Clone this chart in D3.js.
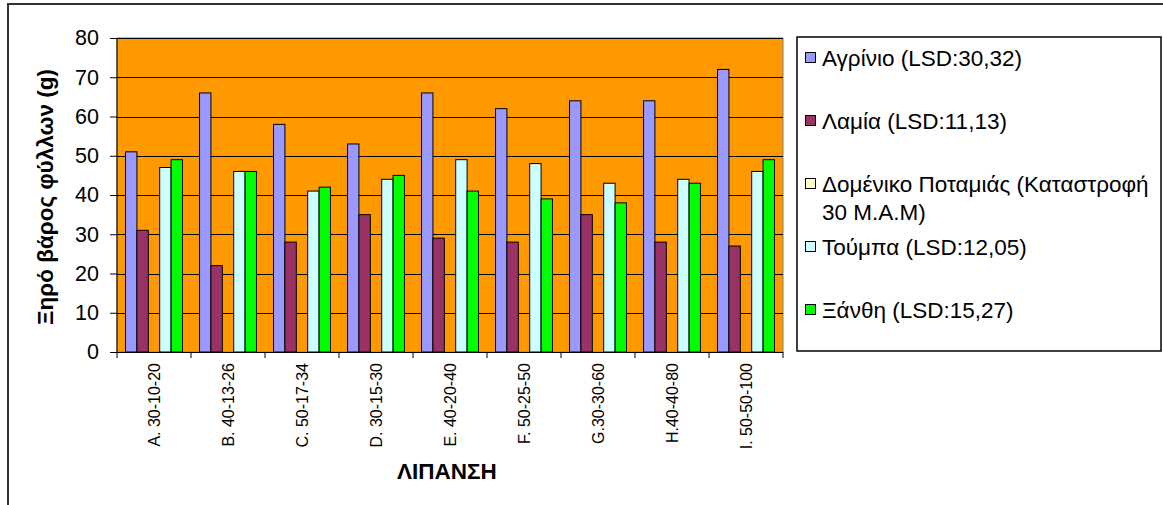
<!DOCTYPE html>
<html><head><meta charset="utf-8">
<script src="https://cdn.jsdelivr.net/npm/d3@7"></script>
<style>html,body{margin:0;padding:0;background:#fff;}svg{display:block;}</style>
</head><body>
<svg id="chart" width="1163" height="505"></svg>
<script>
const categories = ["A. 30-10-20","B. 40-13-26","C. 50-17-34","D. 30-15-30","E. 40-20-40","F. 50-25-50","G.30-30-60","H.40-40-80","I. 50-50-100"];
const seriesNames = ["Αγρίνιο (LSD:30,32)","Λαμία (LSD:11,13)","Δομένικο Ποταμιάς (Καταστροφή|30 M.A.M)","Τούμπα (LSD:12,05)","Ξάνθη (LSD:15,27)"];
const agrinio  = [51,66,58,53,66,62,64,64,72];
const lamia    = [31,22,28,35,29,28,35,28,27];
const domeniko = [null,null,null,null,null,null,null,null,null];
const toumpa   = [47,46,41,44,49,48,43,44,46];
const xanthi   = [49,46,42,45,41,39,38,43,49];
const yTicks = [0,10,20,30,40,50,60,70,80];
const colors = ["#9999FF","#993366","#FFFFCC","#CCFFFF","#00FF00"];
const yTitle = "Ξηρό βάρος φύλλων (g)";
const xTitle = "ΛΙΠΑΝΣΗ";

const seriesValues = [agrinio, lamia, domeniko, toumpa, xanthi];
const svg = d3.select("#chart");
const font = "'Liberation Sans', Arial, sans-serif";

// outer chart border
svg.append("rect").attr("x",8).attr("y",4).attr("width",1170).attr("height",520)
  .attr("fill","none").attr("stroke","#333").attr("stroke-width",2);

const plot = {left:117, top:38, right:783, bottom:352};
const x = d3.scaleBand().domain(categories).range([plot.left, plot.right]).paddingInner(0).paddingOuter(0);
const y = d3.scaleLinear().domain([0,80]).range([plot.bottom, plot.top]);
const n = seriesNames.length;
const barW = x.bandwidth()/(n+1.5);
const x1 = d3.scaleBand().domain(d3.range(n)).range([barW*0.75, barW*0.75 + barW*n]).padding(0);

// plot background
svg.append("rect").attr("x",plot.left).attr("y",plot.top)
  .attr("width",plot.right-plot.left).attr("height",plot.bottom-plot.top)
  .attr("fill","#FF9900").attr("stroke","#808080").attr("stroke-width",1);

// gridlines
svg.append("g").selectAll("line").data(yTicks.filter(d=>d>0)).join("line")
  .attr("x1",plot.left).attr("x2",plot.right)
  .attr("y1",d=>Math.round(y(d))+0.5).attr("y2",d=>Math.round(y(d))+0.5)
  .attr("stroke","#000").attr("stroke-width",1);

// bars
const groups = svg.append("g").selectAll("g").data(categories).join("g")
  .attr("transform",d=>`translate(${x(d)},0)`);
groups.selectAll("rect").data((c,i)=>seriesValues.map((s,k)=>({k, v:s[i]})).filter(d=>d.v!=null)).join("rect")
  .attr("x",d=>x1(d.k)).attr("width",x1.bandwidth())
  .attr("y",d=>y(d.v)).attr("height",d=>y(0)-y(d.v))
  .attr("fill",d=>colors[d.k]).attr("stroke","#000").attr("stroke-width",1);

// y axis
const yAxis = d3.axisLeft(y).tickValues(yTicks).tickSize(7).tickPadding(11).tickFormat(d3.format("d"));
const gy = svg.append("g").attr("transform",`translate(${plot.left},0)`).call(yAxis);
gy.select(".domain").attr("stroke","#000").attr("d",`M0,${plot.top}V${plot.bottom}`);
gy.selectAll(".tick line").attr("stroke","#000");
gy.selectAll("text").attr("font-family",font).attr("font-size",21.5).attr("fill","#000");

// x axis
const gx = svg.append("g").attr("transform",`translate(0,${plot.bottom})`);
gx.append("line").attr("x1",plot.left).attr("x2",plot.right).attr("y1",0.5).attr("y2",0.5).attr("stroke","#000");
const bounds = categories.map(c=>x(c)).concat([plot.right]);
gx.selectAll("line.t").data(bounds).join("line").attr("class","t")
  .attr("x1",d=>d).attr("x2",d=>d).attr("y1",0).attr("y2",6).attr("stroke","#000");
gx.selectAll("text").data(categories).join("text")
  .attr("transform",d=>`translate(${x(d)+x.bandwidth()/2+6},11) rotate(-90)`)
  .attr("text-anchor","end").attr("font-family",font).attr("font-size",16).attr("fill","#000")
  .text(d=>d);

// axis titles
svg.append("text").attr("transform",`translate(${53},${(plot.top+plot.bottom)/2+2}) rotate(-90)`)
  .attr("text-anchor","middle").attr("font-family",font).attr("font-weight","bold").attr("font-size",22.5)
  .text(yTitle);
svg.append("text").attr("x",(plot.left+plot.right)/2-3).attr("y",479)
  .attr("text-anchor","middle").attr("font-family",font).attr("font-weight","bold").attr("font-size",22.5)
  .text(xTitle);

// legend
const lg = svg.append("g");
lg.append("rect").attr("x",797).attr("y",37).attr("width",364).attr("height",314)
  .attr("fill","#fff").attr("stroke","#000").attr("stroke-width",1.5);
const items = lg.selectAll("g.item").data(seriesNames).join("g").attr("class","item")
  .attr("transform",(d,i)=>`translate(805,${58 + i*63})`);
items.append("rect").attr("x",0.5).attr("y",-5.5).attr("width",10).attr("height",10)
  .attr("fill",(d,i)=>colors[i]).attr("stroke","#000").attr("stroke-width",1);
items.append("text").attr("font-family",font).attr("font-size",22.5).attr("fill","#000")
  .each(function(d){
    const t = d3.select(this);
    d.split("|").forEach((line,j)=>{
      t.append("tspan").attr("x",17).attr("y",8 + j*28).text(line);
    });
  });
</script>
</body></html>
